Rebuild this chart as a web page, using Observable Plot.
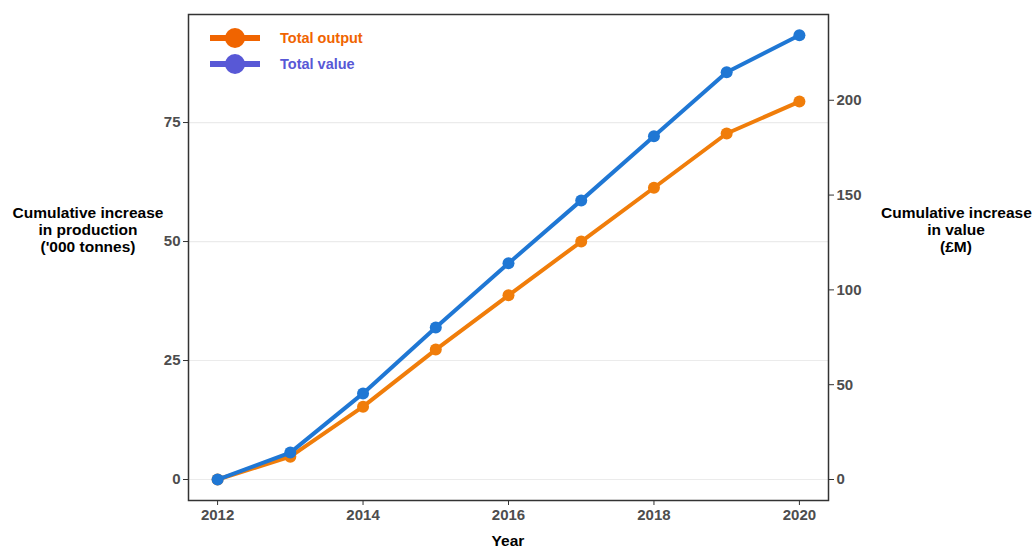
<!DOCTYPE html>
<html>
<head>
<meta charset="utf-8">
<script src="https://cdn.jsdelivr.net/npm/d3@7"></script>
<script src="https://cdn.jsdelivr.net/npm/@observablehq/plot@0.6"></script>
<style>
  html, body { margin: 0; padding: 0; background: #fff; }
  #wrap { position: relative; width: 1033px; height: 548px; overflow: hidden; font-family: "Liberation Sans", Arial, sans-serif; }
  #wrap svg { position: absolute; left: 0; top: 0; }
  .title { position: absolute; font-weight: bold; font-size: 15.5px; color: #000; text-align: center; line-height: 17px; white-space: nowrap; }
  .legend { position: absolute; left: 208px; top: 25px; font-weight: bold; font-size: 14.5px; }
  .legend .item { display: flex; align-items: center; height: 26px; }
  .legend svg { position: static !important; margin-right: 18px; }
</style>
</head>
<body>
<div id="wrap">
  <div class="title" style="left:12px; width:152px; top:204px;">Cumulative increase<br>in production<br>('000 tonnes)</div>
  <div class="title" style="left:881px; width:150px; top:204px;">Cumulative increase<br>in value<br>(£M)</div>
  <div class="title" style="left:408px; width:200px; top:532px;">Year</div>
  <div class="legend" id="legend"></div>
</div>
<script>
const years = [2012, 2013, 2014, 2015, 2016, 2017, 2018, 2019, 2020];
const totalOutput = [0, 4.8, 15.3, 27.3, 38.7, 50.0, 61.3, 72.7, 79.4];   // '000 tonnes
const totalValue = [0, 14.2, 45.4, 80.2, 114.0, 147.2, 181.0, 214.8, 234.3]; // £M
const leftTicks = [0, 25, 50, 75];
const rightTicks = [0, 50, 100, 150, 200];
const xTicks = [2012, 2014, 2016, 2018, 2020];
const seriesNames = ["Total output", "Total value"];
const lineColors = ["#f07d0a", "#1f77d4"];
const legendColors = ["#f06400", "#5858d6"];
const k = 2.51; // secondary axis scale factor (£M per '000 tonnes)

const rows = years.map((year, i) => ({year, output: totalOutput[i], value: totalValue[i], valueScaled: totalValue[i] / k}));

const chart = Plot.plot({
  width: 1033,
  height: 548,
  marginLeft: 188,
  marginRight: 205,
  marginTop: 14,
  marginBottom: 48,
  x: {domain: [2011.6, 2020.4]},
  y: {domain: [-4.41, 97.7]},
  style: {fontFamily: "'Liberation Sans', Arial, sans-serif", fontSize: "15px", fontWeight: "bold", color: "#4d4d4d", background: "transparent"},
  marks: [
    Plot.gridY(leftTicks, {stroke: "#ebebeb", strokeOpacity: 1, strokeWidth: 1.2}),
    Plot.axisX(xTicks, {tickFormat: d => String(d), label: null, tickSize: 5, tickPadding: 4, stroke: "#333", fontSize: 15}),
    Plot.axisY(leftTicks, {anchor: "left", label: null, tickSize: 5, tickPadding: 3, stroke: "#333", fontSize: 15}),
    Plot.axisY(rightTicks.map(v => v / k), {anchor: "right", label: null, tickSize: 5, tickPadding: 3, stroke: "#333", fontSize: 15, tickFormat: d => String(Math.round(d * k))}),
    Plot.line(rows, {x: "year", y: "output", stroke: lineColors[0], strokeWidth: 4}),
    Plot.dot(rows, {x: "year", y: "output", fill: lineColors[0], r: 6}),
    Plot.line(rows, {x: "year", y: "valueScaled", stroke: lineColors[1], strokeWidth: 4}),
    Plot.dot(rows, {x: "year", y: "valueScaled", fill: lineColors[1], r: 6}),
    Plot.frame({stroke: "#333", strokeWidth: 1.5})
  ]
});
document.getElementById("wrap").prepend(chart);

const legend = document.getElementById("legend");
seriesNames.forEach((name, i) => {
  const item = document.createElement("div");
  item.className = "item";
  item.style.color = legendColors[i];
  item.innerHTML = `<svg width="54" height="24"><line x1="2" x2="52" y1="12" y2="12" stroke="${legendColors[i]}" stroke-width="6"/><circle cx="27" cy="12" r="10" fill="${legendColors[i]}"/></svg><span>${name}</span>`;
  legend.appendChild(item);
});
</script>
</body>
</html>
